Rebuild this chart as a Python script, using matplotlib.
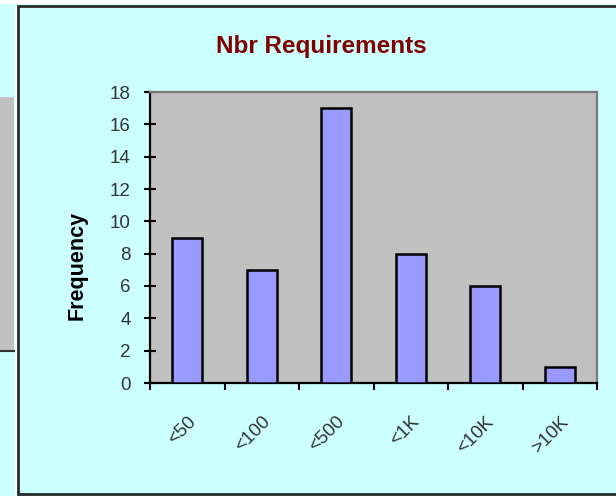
import numpy as np
import matplotlib
matplotlib.use("Agg")
import matplotlib.pyplot as plt
from matplotlib.patches import Rectangle
from matplotlib.lines import Line2D
from matplotlib.ticker import FixedLocator
import matplotlib.transforms as mtransforms

# Histogram of requirement counts per bucket
categories = ["<50", "<100", "<500", "<1K", "<10K", ">10K"]
frequency = [9, 7, 17, 8, 6, 1]
y_ticks = list(range(0, 19, 2))

W, H = 616, 504
CYAN = "#CCFFFF"
PLOT_GREY = "#C0C0C0"
BAR = "#9999FF"

plt.rcParams["font.family"] = ["Liberation Sans", "DejaVu Sans"]

fig = plt.figure(figsize=(W / 100, H / 100), dpi=100, facecolor="white")


def box(x0, y0, x1, y1, **kw):
    """Rectangle given in pixel coordinates measured from the top-left."""
    r = Rectangle((x0 / W, 1 - y1 / H), (x1 - x0) / W, (y1 - y0) / H,
                  transform=fig.transFigure, **kw)
    fig.add_artist(r)
    return r


def hline(x0, x1, y, **kw):
    fig.add_artist(Line2D([x0 / W, x1 / W], [1 - y / H, 1 - y / H],
                          transform=fig.transFigure, **kw))


# sheet background and neighbouring chart on the left
box(0, 4, W, 496, facecolor=CYAN, edgecolor="none", zorder=0)
box(0, 97, 14, 351, facecolor=PLOT_GREY, edgecolor="none", zorder=0)
hline(0, 14, 351, color="#333333", lw=1.5, zorder=1)
box(14.5, 0, 16.5, H, facecolor="white", edgecolor="none", zorder=1)

# chart frame
box(18, 6, W + 10, 494, facecolor=CYAN, edgecolor="#2a2a2a", lw=2, zorder=1)

ax = fig.add_axes([150 / W, 1 - 383 / H, (597 - 150) / W, (383 - 92) / H], zorder=3)
ax.set_facecolor(PLOT_GREY)

x = np.arange(len(categories))
ax.bar(x, frequency, width=0.4, color=BAR, edgecolor="black", linewidth=1.8, zorder=3)

ax.set_xlim(-0.5, len(categories) - 0.5)
ax.set_ylim(0, 18)
ax.set_yticks(y_ticks)
ax.set_yticklabels([str(v) for v in y_ticks])
ax.tick_params(axis="y", direction="inout", length=8, width=1.5, color="black",
               labelsize=13.5, labelcolor="#333333", pad=10)

ax.set_xticks(x)
ax.set_xticklabels(categories, rotation=45, ha="right", va="center",
                   rotation_mode="anchor")
ax.tick_params(axis="x", which="major", length=0, labelsize=13.5,
               labelcolor="#333333", pad=26)
ax.xaxis.set_minor_locator(FixedLocator(np.arange(-0.5, len(categories), 1.0)))
ax.tick_params(axis="x", which="minor", direction="out", length=5, width=1.5,
               color="black")
shift = mtransforms.ScaledTranslation(6 / 100, 0, fig.dpi_scale_trans)
for lab in ax.get_xticklabels():
    lab.set_transform(lab.get_transform() + shift)

for side in ("left", "bottom"):
    ax.spines[side].set_color("black")
    ax.spines[side].set_linewidth(1.6)
for side in ("top", "right"):
    ax.spines[side].set_color("#7a7a7a")
    ax.spines[side].set_linewidth(1.6)

ax.set_ylabel("Frequency", fontsize=15.5, fontweight="bold", color="black",
              va="center", ha="center")
ax.yaxis.set_label_coords((77 - 150) / 447, (383 - 265) / 291)

fig.text(321 / W, 1 - 47 / H, "Nbr Requirements", color="#800000",
         fontsize=17.5, fontweight="bold", ha="center", va="center", zorder=4)

fig.savefig("out.png", dpi=100, facecolor=fig.get_facecolor())
